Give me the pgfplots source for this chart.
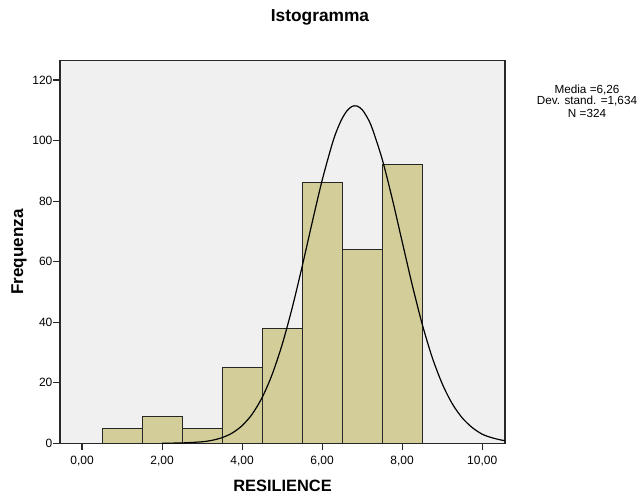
\documentclass[border=0pt]{standalone}
\usepackage{fontspec}
\setmainfont{Liberation Sans}
\usepackage{pgfplots}
\pgfplotsset{compat=1.18}
\definecolor{bgcol}{RGB}{240,240,240}
\definecolor{barfill}{RGB}{211,206,153}
\definecolor{framecol}{RGB}{40,40,40}
\begin{document}
\begin{tikzpicture}
\path[use as bounding box] (0,0) rectangle (478.5pt,371.25pt);
\begin{axis}[
  at={(45pt,38.8pt)}, anchor=south west,
  width=333.75pt, height=286.95pt, scale only axis,
  xmin=-0.55, xmax=10.57, ymin=0, ymax=126.4,
  axis background/.style={fill=bgcol},
  axis line style={framecol, line width=0.8pt},
  xtick={0,2,4,6,8,10},
  xticklabels={{0,00},{2,00},{4,00},{6,00},{8,00},{10,00}},
  ytick={0,20,40,60,80,100,120},
  tick align=outside, tick pos=left,
  major tick length=5pt,
  every tick/.style={framecol, line width=0.8pt},
  tick label style={font=\fontsize{9}{10}\selectfont, text=black},
  /pgf/number format/assume math mode=true,
  xticklabel style={yshift=-1pt},
  yticklabel style={inner xsep=0.5pt},
  clip=true,
]
\addplot[ybar interval, fill=barfill, draw=black!85, line width=0.75pt]
  coordinates {(0.5,5) (1.5,9) (2.5,5) (3.5,25) (4.5,38) (5.5,86) (6.5,64) (7.5,92) (8.5,92)};
\addplot[smooth, black, line width=0.9pt, mark=none] coordinates {
(2.0,0.02) (2.5,0.11) (3.0,0.49) (3.25,0.98) (3.5,1.86) (3.75,3.36) (4.0,5.81)
(4.25,9.58) (4.5,15.09) (4.75,22.69) (5.0,32.56) (5.25,44.62) (5.5,58.36)
(5.75,72.87) (6.0,86.85) (6.25,98.82) (6.375,103.6) (6.5,107.3) (6.625,109.9)
(6.75,111.3) (6.875,111.4) (7.0,110.2) (7.125,107.7) (7.25,104.1) (7.5,93.9)
(7.75,80.9) (8.0,66.6) (8.25,52.4)
(8.5,39.4) (8.75,28.4) (9.0,19.7) (9.25,13.1) (9.5,8.4) (9.75,5.2)
(10.0,3.0) (10.25,1.8) (10.5,1.0) (10.57,0.9)};
\end{axis}
\node[font=\bfseries\fontsize{13}{15}\selectfont] at (240pt,358pt) {Istogramma};
\node[font=\bfseries\fontsize{12.3}{14}\selectfont] at (211.9pt,6.9pt) {RESILIENCE};
\node[font=\bfseries\fontsize{12.8}{14}\selectfont, rotate=90] at (14.25pt,182.25pt) {Frequenza};
\node[font=\fontsize{8.8}{10}\selectfont] at (440.25pt,303.75pt) {Media =6,26};
\node[font=\fontsize{8.8}{10}\selectfont] at (440.25pt,295.2pt) {Dev. stand. =1,634};
\node[font=\fontsize{8.8}{10}\selectfont] at (440.25pt,286.5pt) {N =324};
\end{tikzpicture}
\end{document}
